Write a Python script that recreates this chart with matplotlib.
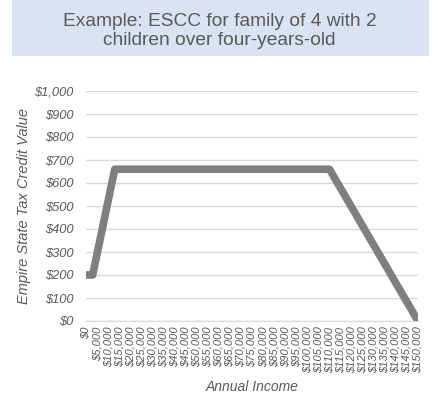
import matplotlib
matplotlib.use("Agg")
import matplotlib.pyplot as plt
from matplotlib.patches import Rectangle

# Credit value by annual income (dollars)
INCOME = [0, 3000, 13000, 110000, 150000]
CREDIT = [200, 200, 660, 660, 0]

TICK_INCOMES = list(range(0, 150001, 5000))
TICK_LABELS = [f"${v:,}" for v in TICK_INCOMES]
Y_TICKS = list(range(0, 1001, 100))
Y_LABELS = [f"${v:,}" for v in Y_TICKS]

TITLE = "Example: ESCC for family of 4 with 2\nchildren over four-years-old"
TEXT_COLOR = "#595959"
LINE_COLOR = "#7f7f7f"
GRID_COLOR = "#d9d9d9"
BOX_COLOR = "#dae3f3"

plt.rcParams["font.family"] = ["Liberation Sans", "DejaVu Sans"]

W, H = 439, 395
fig = plt.figure(figsize=(W / 100, H / 100), dpi=100)

# title banner
fig.patches.append(
    Rectangle((12 / W, 1 - 56 / H), 417 / W, 56 / H,
              transform=fig.transFigure, facecolor=BOX_COLOR,
              edgecolor="none", zorder=0)
)
fig.text(0.5, 1 - 31 / H, TITLE, ha="center", va="center",
         fontsize=13.8, color=TEXT_COLOR, linespacing=1.22)

ax = fig.add_axes([86 / W, 1 - 321 / H, 332 / W, 230 / H])
ax.plot(INCOME, CREDIT, color=LINE_COLOR, lw=5.5,
        solid_joinstyle="round", solid_capstyle="butt", zorder=3)

ax.set_xlim(0, 150000)
ax.set_ylim(0, 1000)
ax.set_xticks(TICK_INCOMES)
ax.set_xticklabels(TICK_LABELS, rotation=90, fontsize=8,
                   style="italic", color=TEXT_COLOR)
ax.set_yticks(Y_TICKS)
ax.set_yticklabels(Y_LABELS, fontsize=9.3, style="italic", color=TEXT_COLOR)
ax.tick_params(length=0, pad=9)
ax.tick_params(axis="x", pad=4)

ax.grid(True, axis="y", color=GRID_COLOR, lw=1)
ax.set_axisbelow(True)
for side in ["top", "right", "left"]:
    ax.spines[side].set_visible(False)
ax.spines["bottom"].set_color(GRID_COLOR)

ax.set_ylabel("Empire State Tax Credit Value", fontsize=10.5,
              style="italic", color=TEXT_COLOR, labelpad=2)
fig.text(252 / W, 1 - 387 / H, "Annual Income", ha="center", va="center",
         fontsize=10, style="italic", color=TEXT_COLOR)

fig.savefig("out.png", dpi=100)
